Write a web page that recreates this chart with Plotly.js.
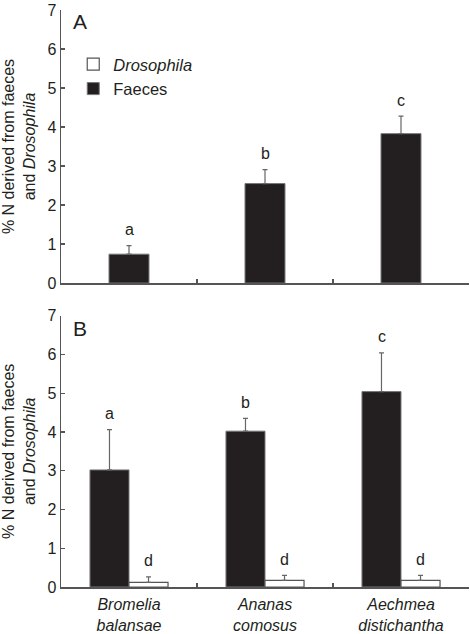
<!DOCTYPE html>
<html>
<head>
<meta charset="utf-8">
<script src="https://cdn.plot.ly/plotly-3.0.1.min.js"></script>
<style>html,body{margin:0;padding:0;background:#fff}#chart{width:470px;height:634px}</style>
</head>
<body>
<div id="chart"></div>
<script>
// ---- data ----
const categories = ["Bromelia<br>balansae", "Ananas<br>comosus", "Aechmea<br>distichantha"];

// Panel A
const faecesA = [0.74, 2.55, 3.83];
const faecesAErr = [0.22, 0.36, 0.45];
const lettersA = ["a", "b", "c"];

// Panel B
const faecesB = [3.02, 4.02, 5.04];
const faecesBErr = [1.04, 0.33, 1.00];
const lettersFaecesB = ["a", "b", "c"];
const drosophilaB = [0.12, 0.17, 0.17];
const drosophilaBErr = [0.14, 0.13, 0.13];
const lettersDrosophilaB = ["d", "d", "d"];

const yTicks = [0, 1, 2, 3, 4, 5, 6, 7];

// ---- styles ----
const FONT = "Liberation Sans, Arial, Helvetica, sans-serif";
const AX = "#555";
const TXT = "#231f20";
const DARK = "#231f20";

const errStyle = (arr) => ({
  type: "data", symmetric: false, array: arr,
  arrayminus: arr.map(() => 0),
  color: "#666", thickness: 1.2, width: 2.5
});

const traces = [
  {
    type: "bar", x: categories, y: faecesA, xaxis: "x", yaxis: "y",
    width: 0.294, name: "Faeces", showlegend: false,
    marker: {color: DARK, line: {color: "#777", width: 1}},
    error_y: errStyle(faecesAErr)
  },
  {
    type: "bar", x: categories, y: faecesB, xaxis: "x2", yaxis: "y2",
    name: "Faeces", legendrank: 2,
    marker: {color: DARK, line: {color: "#777", width: 1}},
    error_y: errStyle(faecesBErr)
  },
  {
    type: "bar", x: categories, y: drosophilaB, xaxis: "x2", yaxis: "y2",
    name: "<i>Drosophila</i>", legendrank: 1,
    marker: {color: "#ffffff", line: {color: "#555", width: 1.2}},
    error_y: errStyle(drosophilaBErr)
  }
];

const annotations = [];
function addLetters(letters, vals, errs, xref, yref, xshift) {
  letters.forEach((t, i) => {
    annotations.push({
      text: t, x: categories[i], y: vals[i] + errs[i], xref: xref, yref: yref,
      xshift: xshift, yshift: 16, showarrow: false,
      font: {family: FONT, size: 16, color: TXT}
    });
  });
}
addLetters(lettersA, faecesA, faecesAErr, "x", "y", 0);
addLetters(lettersFaecesB, faecesB, faecesBErr, "x2", "y2", -19.5);
addLetters(lettersDrosophilaB, drosophilaB, drosophilaBErr, "x2", "y2", 19.5);

annotations.push({text: "A", xref: "paper", yref: "paper", x: 0.025, y: 1.004,
  xanchor: "left", yanchor: "top", showarrow: false, font: {family: FONT, size: 21, color: TXT}});
annotations.push({text: "B", xref: "paper", yref: "paper", x: 0.025, y: 0.472,
  xanchor: "left", yanchor: "top", showarrow: false, font: {family: FONT, size: 21, color: TXT}});

const xBase = {
  type: "category", range: [-0.5, 2.5], showline: true, linecolor: AX, linewidth: 1.5,
  ticks: "inside", ticklen: 4, tickwidth: 1.5, tickcolor: AX, tickson: "boundaries",
  showgrid: false, zeroline: false, fixedrange: true, ticklabelstandoff: 2,
  tickfont: {family: FONT, size: 16, color: TXT, style: "italic"}
};
const yTitle = {
  text: "% N derived from faeces<br>and <i>Drosophila</i>",
  font: {family: FONT, size: 16, color: TXT}, standoff: 10
};
const yBase = {
  range: [0, 7], tickvals: yTicks, showline: true, linecolor: AX, linewidth: 1.5,
  ticks: "inside", ticklen: 4, tickwidth: 1.2, tickcolor: AX,
  showgrid: false, zeroline: false, fixedrange: true,
  tickfont: {family: FONT, size: 16, color: TXT}, title: yTitle
};

const layout = {
  width: 470, height: 634,
  margin: {l: 61, r: 1, t: 10, b: 46.5},
  paper_bgcolor: "#fff", plot_bgcolor: "#fff",
  barmode: "group", bargap: 0.426, bargroupgap: 0,
  showlegend: true,
  legend: {x: 0.03, y: 0.936, xanchor: "left", yanchor: "top",
    font: {family: FONT, size: 16.5, color: TXT}, itemwidth: 30,
    bgcolor: "rgba(0,0,0,0)", borderwidth: 0, traceorder: "normal"},
  xaxis: Object.assign({}, xBase, {domain: [0, 1], anchor: "y", showticklabels: false}),
  yaxis: Object.assign({}, yBase, {domain: [0.5268, 1], anchor: "x"}),
  xaxis2: Object.assign({}, xBase, {domain: [0, 1], anchor: "y2"}),
  yaxis2: Object.assign({}, yBase, {domain: [0, 0.4703], anchor: "x2"}),
  annotations: annotations
};

Plotly.newPlot("chart", traces, layout, {staticPlot: true, displayModeBar: false});
</script>
</body>
</html>
